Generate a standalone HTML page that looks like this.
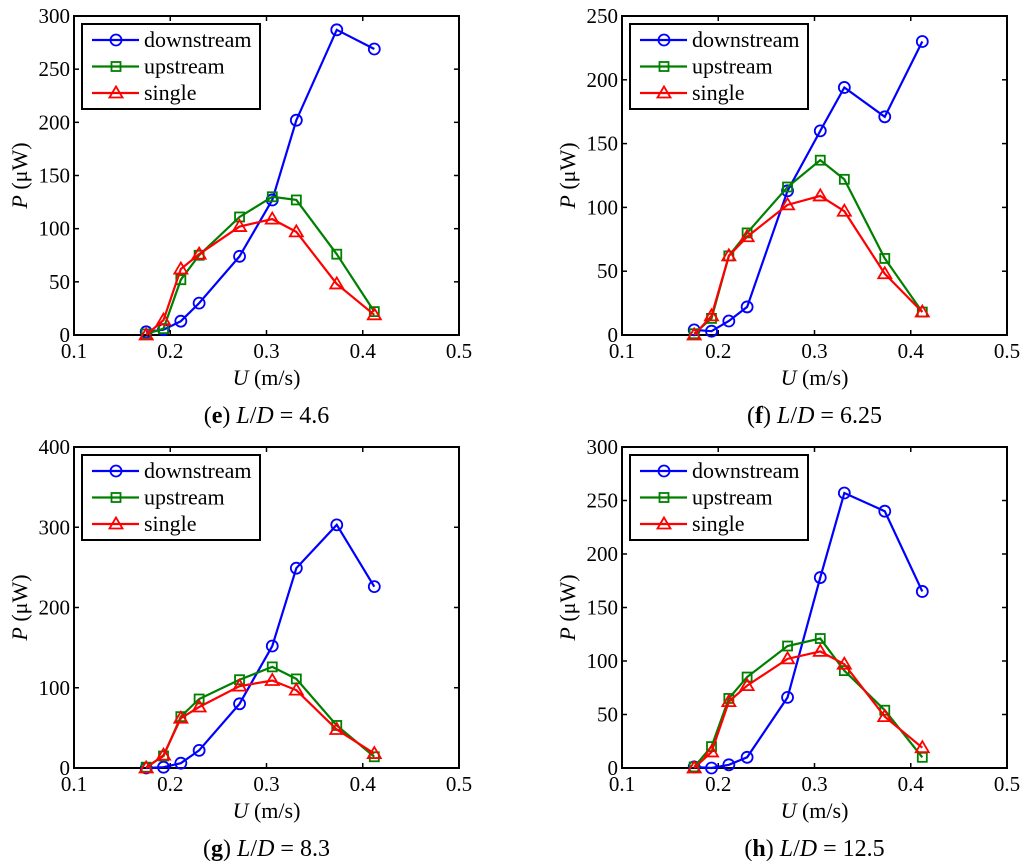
<!DOCTYPE html>
<html><head><meta charset="utf-8"><style>
body{margin:0;background:#fff}
svg{display:block;font-family:"Liberation Serif",serif}
</style></head><body>
<svg id="c" width="1024" height="866" viewBox="0 0 1024 866"></svg>
<script>
const uValues=[0.175,0.193,0.211,0.23,0.272,0.306,0.331,0.373,0.412];
const xTicks=[0.1,0.2,0.3,0.4,0.5];
const eDown=[3,5,13,30,74,127,202,287,269];
const eUp=[1,6,52,75,111,130,127,76,22];
const eSingle=[0,14,62,76,102,109,97,48,19];
const fDown=[4,3,11,22,113,160,194,171,230];
const fUp=[1,13,62,80,116,137,122,60,18];
const fSingle=[0,15,62,77,102,109,97,48,18];
const gDown=[0,1,6,22,80,152,249,303,226];
const gUp=[1,15,64,86,110,126,111,53,14];
const gSingle=[0,16,62,76,102,109,97,48,18];
const hDown=[1,0,3,10,66,178,257,240,165];
const hUp=[1,20,65,85,114,121,91,54,10];
const hSingle=[0,15,62,77,102,109,97,48,19];
const eTicks=[0,50,100,150,200,250,300];
const fTicks=[0,50,100,150,200,250];
const gTicks=[0,100,200,300,400];
const hTicks=[0,50,100,150,200,250,300];
const NS="http://www.w3.org/2000/svg";
const svg=document.getElementById('c');
function mk(t,a,p){const e=document.createElementNS(NS,t);for(const k in a)e.setAttribute(k,a[k]);(p||svg).appendChild(e);return e;}
const panels=[
 {id:'e',L:74,R:459,T:16,B:335,ticks:eTicks,d:eDown,u:eUp,s:eSingle,cap:'e',ld:'4.6'},
 {id:'f',L:622,R:1007,T:16,B:335,ticks:fTicks,d:fDown,u:fUp,s:fSingle,cap:'f',ld:'6.25'},
 {id:'g',L:74,R:459,T:447,B:768,ticks:gTicks,d:gDown,u:gUp,s:gSingle,cap:'g',ld:'8.3'},
 {id:'h',L:622,R:1007,T:447,B:768,ticks:hTicks,d:hDown,u:hUp,s:hSingle,cap:'h',ld:'12.5'}];
function marker(g,type,x,y,col){
 let m;
 if(type==='o')m=mk('circle',{cx:x,cy:y,r:5.5,fill:'none',stroke:col,'stroke-width':1.8},g);
 else if(type==='s')m=mk('rect',{x:x-4.5,y:y-4.5,width:9,height:9,fill:'none',stroke:col,'stroke-width':1.8},g);
 else m=mk('polygon',{points:`${x},${y-6.5} ${x-6.5},${y+4.5} ${x+6.5},${y+4.5}`,fill:'none',stroke:col,'stroke-width':1.8},g);
 
 
}
panels.forEach(p=>{
 const g=mk('g',{});
 
 
 const ymax=p.ticks[p.ticks.length-1];
 const sx=v=>p.L+(v-0.1)/0.4*(p.R-p.L);
 const sy=v=>p.B-v/ymax*(p.B-p.T);
 const fr=mk('rect',{x:p.L,y:p.T,width:p.R-p.L,height:p.B-p.T,fill:'none',stroke:'#000','stroke-width':2},g);
 
 
 xTicks.forEach(v=>{const x=sx(v);
  mk('line',{x1:x,x2:x,y1:p.B,y2:p.B-5,stroke:'#000','stroke-width':1.5},g);
  mk('line',{x1:x,x2:x,y1:p.T,y2:p.T+5,stroke:'#000','stroke-width':1.5},g);
  const t=mk('text',{x:x,y:p.B+23,'text-anchor':'middle','font-size':21},g);t.textContent=v.toFixed(1);
  
  });
 p.ticks.forEach(v=>{const y=sy(v);
  mk('line',{x1:p.L,x2:p.L+5,y1:y,y2:y,stroke:'#000','stroke-width':1.5},g);
  mk('line',{x1:p.R,x2:p.R-5,y1:y,y2:y,stroke:'#000','stroke-width':1.5},g);
  const t=mk('text',{x:p.L-4,y:y+7,'text-anchor':'end','font-size':21},g);t.textContent=v;
  
  });
 const xl=mk('text',{x:(p.L+p.R)/2,y:p.B+50,'text-anchor':'middle','font-size':22},g);
 xl.innerHTML='<tspan font-style="italic">U</tspan> (m/s)';
 
 
 const yc=(p.T+p.B)/2, yx=p.L-47;
 const yl=mk('text',{x:yx,y:yc,'text-anchor':'middle','font-size':22,transform:`rotate(-90 ${yx} ${yc})`},g);
 yl.innerHTML='<tspan font-style="italic">P</tspan> (μW)';
 
 
 const cap=mk('text',{x:(p.L+p.R)/2,y:p.B+88,'text-anchor':'middle','font-size':24},g);
 cap.innerHTML=`(<tspan font-weight="bold">${p.cap}</tspan>) <tspan font-style="italic">L</tspan>/<tspan font-style="italic">D</tspan> = ${p.ld}`;
 
 
 const series=[[p.d,'#0000ff','o'],[p.u,'#008000','s'],[p.s,'#ff0000','t']];
 series.forEach(([vals,col,m])=>{
  const pts=vals.map((v,i)=>sx(uValues[i])+','+sy(v)).join(' ');
  const pl=mk('polyline',{points:pts,fill:'none',stroke:col,'stroke-width':2.2},g);
  
  
  vals.forEach((v,i)=>marker(g,m,sx(uValues[i]),sy(v),col));
 });
 const lx=p.L+8,ly=p.T+8;
 const lg=mk('g',{},g);
 
 
 mk('rect',{x:lx,y:ly,width:178,height:85,fill:'#fff',stroke:'#000','stroke-width':2},lg);
 const names=['downstream','upstream','single'];
 series.forEach(([v,col,m],i)=>{
  const yy=ly+16+i*26.5;
  mk('line',{x1:lx+10,x2:lx+57,y1:yy,y2:yy,stroke:col,'stroke-width':2.2},lg);
  marker(lg,m,lx+34,yy,col);
  const t=mk('text',{x:lx+62,y:yy+7,'font-size':22},lg);t.textContent=names[i];
  
  
 });
});
</script>
</body></html>
